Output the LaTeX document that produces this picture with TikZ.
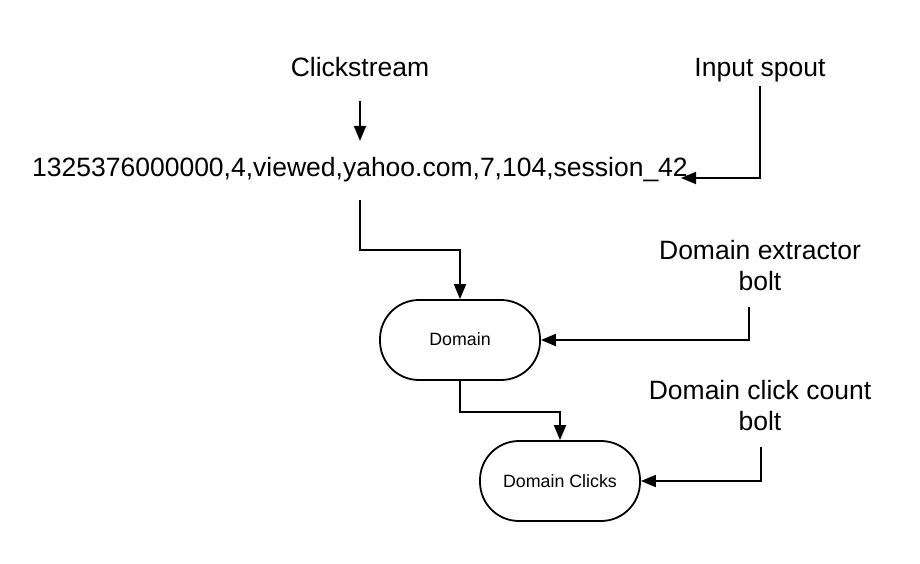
\documentclass[tikz,border=0pt]{standalone}
\usepackage{fontspec}
\setmainfont{Liberation Sans}
\usetikzlibrary{arrows.meta}
\begin{document}
\begin{tikzpicture}[x=1pt, y=-1pt, line width=1.8pt, line join=miter, >={Triangle[length=15pt,width=12pt]},
		lbl/.style={font=\fontsize{26.5}{31}\selectfont, align=center, inner sep=0pt},
		bolt/.style={draw, rounded corners=39pt, minimum width=160pt, minimum height=80pt, inner sep=0pt, font=\fontsize{17.8}{21}\selectfont}]
	\useasboundingbox (0,0) rectangle (920,563);
	% labels
	\node[lbl, anchor=base] (click) at (360,76) {Clickstream};
	\node[lbl, anchor=base] (spout) at (760,76) {Input spout};
	\node[lbl, anchor=base] (tuple) at (360,176) {1325376000000,4,viewed,yahoo.com,7,104,session\_42};
	\node[lbl] (extractor) at (760,266) {Domain extractor\\bolt};
	\node[lbl] (counter) at (760,406) {Domain click count\\bolt};
	% bolts
	\node[bolt] (domain) at (460,340) {\raisebox{2pt}{Domain}};
	\node[bolt] (clicks) at (560,481) {Domain Clicks};
	% free ends
	\coordinate (spoutout) at (760,86);
	\coordinate (tuplein) at (681,178);
	\coordinate (tupleout) at (360,200);
	\coordinate (extractorout) at (749,307);
	\coordinate (counterout) at (761,447);
	% connectors
	\draw[->, shorten <=24pt, shorten >=15pt] (click) -- (tuple);
	\draw[->] (spoutout) |- (tuplein);
	\draw[->] (tupleout) -- ++(0,50) -| (domain.north);
	\draw[->] (extractorout) |- (domain.east);
	\draw[->] (domain.south) -- ++(0,31) -| (clicks.north);
	\draw[->] (counterout) |- (clicks.east);
\end{tikzpicture}
\end{document}
